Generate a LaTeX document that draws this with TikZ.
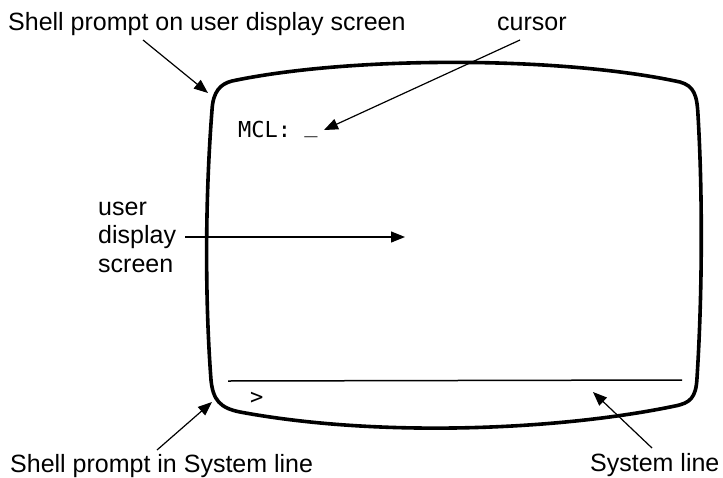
\documentclass[tikz,border=0pt]{standalone}
\usepackage{fontspec}
\setmainfont{Liberation Sans}
\newfontfamily\monofont{DejaVu Sans Mono}
\usetikzlibrary{arrows.meta}
\begin{document}
\begin{tikzpicture}[x=1pt,y=-1pt,
  lbl/.style={font=\fontsize{25}{28.5}\selectfont, inner sep=0pt},
  mono/.style={font=\monofont\fontsize{22}{26}\selectfont, inner sep=0pt},
  ptr/.style={-{Triangle[length=14pt,width=11pt]}, line width=1.2pt},
  scr/.style={line width=3.6pt, line join=round},
  sysline/.style={line width=1.5pt}]
\useasboundingbox (0,0) rectangle (723,477);
% screen outline
\draw[scr] (212,110) .. controls (213,92) and (220,84) .. (232,81)
  .. controls (350,56) and (560,56) .. (680,82)
  .. controls (694,86) and (697,95) .. (698,115)
  .. controls (703,200) and (702,300) .. (697,378)
  .. controls (696,398) and (690,403) .. (675,406)
  .. controls (560,430) and (380,438) .. (240,412)
  .. controls (220,408) and (213,400) .. (211,380)
  .. controls (205,300) and (205,200) .. cycle;
% system line
\coordinate (sl1) at (228,381);
\coordinate (sl2) at (682,380);
\draw[sysline] (sl1) -- (sl2);
% screen texts
\node[mono, anchor=base west] (mcl) at (238,137) {MCL: \raisebox{0.22em}{\_}};
\node[mono, anchor=base west] (prompt) at (250,404) {>};
% labels
\node[lbl, anchor=base west] (shellscr) at (8,30) {Shell prompt on user display screen};
\node[lbl, anchor=base west] (cursorlbl) at (497,30) {cursor};
\node[lbl, anchor=base west, align=left] (udlbl) at (98,272) {user\\display\\screen};
\node[lbl, anchor=base west] (shellsys) at (10,472) {Shell prompt in System line};
\node[lbl, anchor=base west] (syslbl) at (590,471) {System line};
% arrow end points
\coordinate (a1s) at (143,40);  \coordinate (a1e) at (208,93);
\coordinate (a2s) at (520,40);  \coordinate (a2e) at (324,130);
\coordinate (a3s) at (185,237); \coordinate (a3e) at (405,237);
\coordinate (a4s) at (157,450); \coordinate (a4e) at (212,402);
\coordinate (a5s) at (652,448); \coordinate (a5e) at (593,392);
\draw[ptr] (a1s) -- (a1e);
\draw[ptr] (a2s) -- (a2e);
\draw[ptr] (a3s) -- (a3e);
\draw[ptr] (a4s) -- (a4e);
\draw[ptr] (a5s) -- (a5e);
\end{tikzpicture}
\end{document}
